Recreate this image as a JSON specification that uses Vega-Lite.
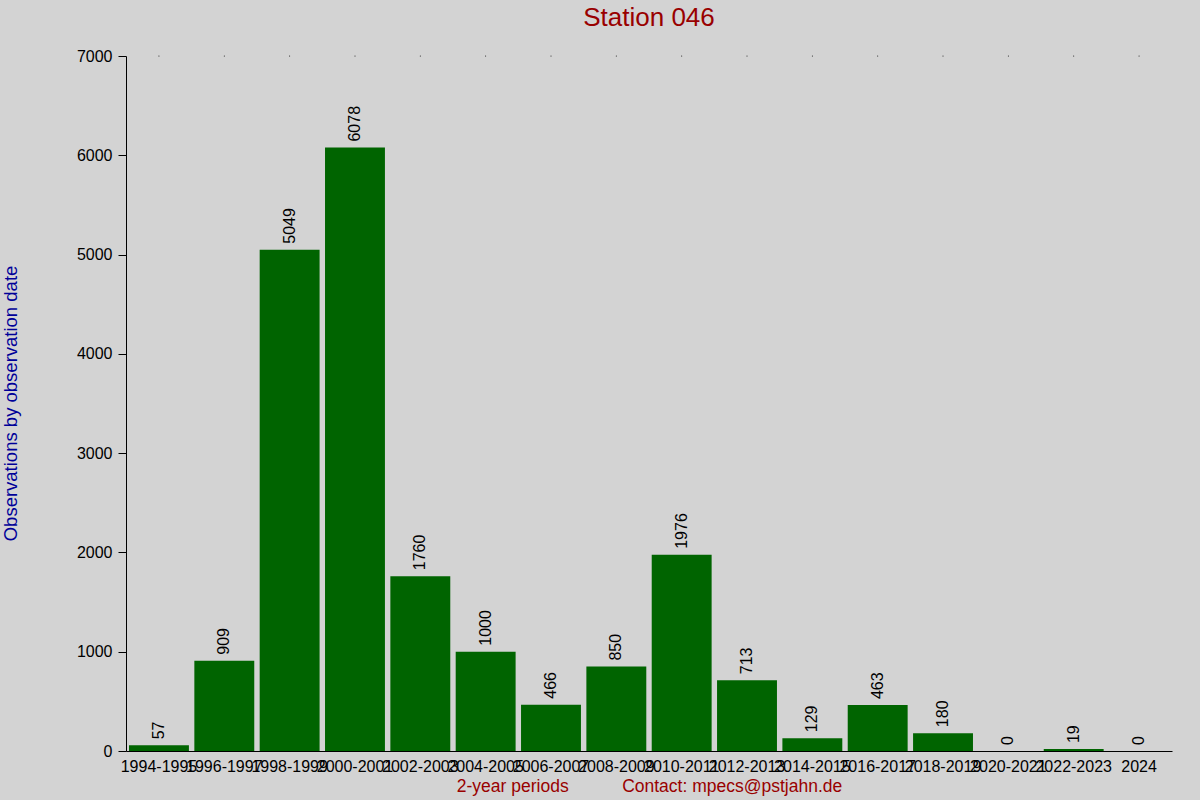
{
  "$schema": "https://vega.github.io/schema/vega-lite/v6.json",
  "width": 1046,
  "height": 695,
  "autosize": {"type": "none"},
  "padding": {"left": 126, "top": 56, "right": 28, "bottom": 49},
  "background": "#d3d3d3",
  "title": {
    "text": "Station 046",
    "fontSize": 26,
    "font": "Liberation Sans",
    "fontWeight": "normal",
    "color": "#990000",
    "anchor": "middle",
    "offset": 17
  },
  "data": {
    "values": [
      {"period": "1994-1995", "count": 57},
      {"period": "1996-1997", "count": 909},
      {"period": "1998-1999", "count": 5049},
      {"period": "2000-2001", "count": 6078},
      {"period": "2002-2003", "count": 1760},
      {"period": "2004-2005", "count": 1000},
      {"period": "2006-2007", "count": 466},
      {"period": "2008-2009", "count": 850},
      {"period": "2010-2011", "count": 1976},
      {"period": "2012-2013", "count": 713},
      {"period": "2014-2015", "count": 129},
      {"period": "2016-2017", "count": 463},
      {"period": "2018-2019", "count": 180},
      {"period": "2020-2021", "count": 0},
      {"period": "2022-2023", "count": 19},
      {"period": "2024", "count": 0}
    ]
  },
  "encoding": {
    "x": {
      "field": "period",
      "type": "nominal",
      "sort": null,
      "scale": {"paddingInner": 0.083, "paddingOuter": 0.046},
      "axis": {
        "title": "2-year periods\u00a0\u00a0\u00a0\u00a0\u00a0\u00a0\u00a0\u00a0\u00a0\u00a0\u00a0Contact: mpecs@pstjahn.de",
        "titleColor": "#990000",
        "titleFontSize": 17.5,
        "titleY": 35,
        "titleBaseline": "middle",
        "labelAngle": 0,
        "ticks": false,
        "labelPadding": 7,
        "labelOverlap": false,
        "labelBound": false,
        "labelFlush": false
      }
    }
  },
  "layer": [
    {
      "mark": {"type": "bar", "color": "#006400"},
      "encoding": {
        "y": {
          "field": "count",
          "type": "quantitative",
          "scale": {"domain": [0, 7000], "nice": false},
          "axis": {
            "title": "Observations by observation date",
            "titleColor": "#000099",
            "titleFontSize": 18.5,
            "titleX": -116,
            "titleY": 347,
            "titleAngle": 270,
            "titleAlign": "center",
            "titleBaseline": "middle",
            "values": [0, 1000, 2000, 3000, 4000, 5000, 6000, 7000],
            "format": "d",
            "tickSize": 8,
            "labelPadding": 6,
            "grid": false
          }
        }
      }
    },
    {
      "mark": {"type": "text", "angle": 270, "align": "left", "baseline": "middle", "dx": 6, "fontSize": 16, "font": "Liberation Sans", "color": "#000000"},
      "encoding": {
        "y": {"field": "count", "type": "quantitative"},
        "text": {"field": "count", "type": "quantitative"}
      }
    },
    {
      "mark": {"type": "point", "filled": true, "size": 1, "color": "#000000", "opacity": 1},
      "encoding": {
        "y": {"datum": 7000, "type": "quantitative"}
      }
    }
  ],
  "config": {
    "font": "Liberation Sans",
    "view": {"stroke": null},
    "axis": {
      "labelFont": "Liberation Sans",
      "labelFontSize": 16,
      "labelColor": "#000000",
      "titleFont": "Liberation Sans",
      "titleFontWeight": "normal",
      "domainColor": "#000000",
      "tickColor": "#000000"
    }
  }
}
